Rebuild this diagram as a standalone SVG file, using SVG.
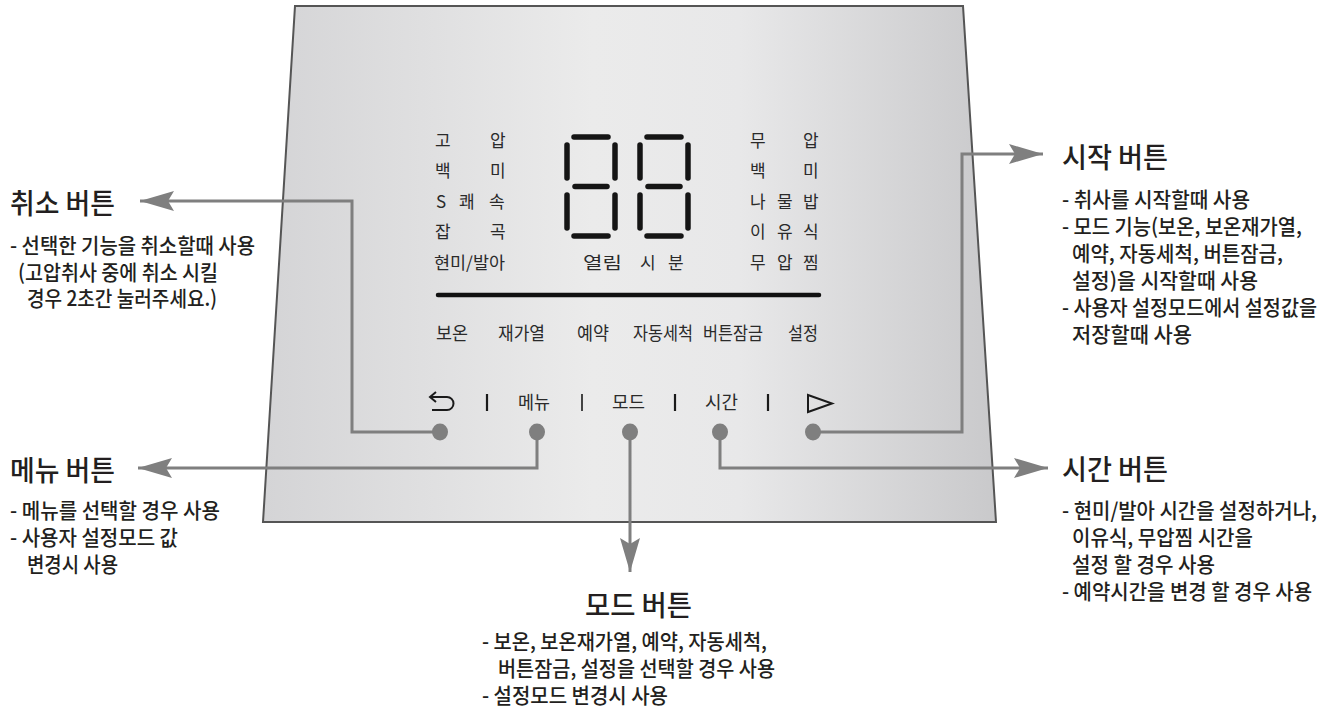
<svg xmlns="http://www.w3.org/2000/svg" width="1339" height="717" viewBox="0 0 1339 717">
<style>
text{font-family:"Noto Sans CJK KR","Noto Sans",sans-serif;fill:#231f20}
.title{font-size:28px;font-weight:500}
.body{font-size:21px;font-weight:500}
.pt{font-size:17px;fill:#2a2a2a}
.lbl{font-size:18px;fill:#2a2a2a}
.seg{stroke:#151515;stroke-width:5.5;stroke-linecap:round;fill:none}
.conn{stroke:#7f7f7f;stroke-width:3;fill:none}
.dot{fill:#7f7f7f}
.sym{stroke:#1a1a1a;stroke-width:2;fill:none}
</style>
<defs>
<linearGradient id="pg" x1="0" y1="0" x2="1" y2="0">
<stop offset="0" stop-color="#d4d4d6"/>
<stop offset="0.45" stop-color="#ebebeb"/>
<stop offset="0.65" stop-color="#e8e8e9"/>
<stop offset="1" stop-color="#c9c9cb"/>
</linearGradient>
<marker id="ah" markerUnits="userSpaceOnUse" viewBox="-36 -12 40 24" refX="0" refY="0" markerWidth="40" markerHeight="24" orient="auto">
<path d="M0,0 L-34,-10 L-28,0 L-34,10 Z" fill="#7f7f7f"/>
</marker>
</defs>

<g id="panel">
<polygon points="295,6 963,6 996,522 263,522" fill="url(#pg)" stroke="#555" stroke-width="2"/>
</g>

<g id="indicators-left">
<text class="pt" x="435" y="146.5">고</text><text class="pt" x="490" y="146.5">압</text>
<text class="pt" x="435" y="177">백</text><text class="pt" x="490" y="177">미</text>
<text class="pt" x="436" y="207.5">S</text><text class="pt" x="459" y="207.5">쾌</text><text class="pt" x="489" y="207.5">속</text>
<text class="pt" x="435" y="237.5">잡</text><text class="pt" x="490" y="237.5">곡</text>
<text class="pt" x="434" y="268.5" textLength="71" lengthAdjust="spacingAndGlyphs">현미/발아</text>
</g>

<g id="indicators-right">
<text class="pt" x="750" y="146.5">무</text><text class="pt" x="803" y="146.5">압</text>
<text class="pt" x="750" y="177">백</text><text class="pt" x="803" y="177">미</text>
<text class="pt" x="750" y="207.5">나</text><text class="pt" x="777" y="207.5">물</text><text class="pt" x="803" y="207.5">밥</text>
<text class="pt" x="750" y="237.5">이</text><text class="pt" x="777" y="237.5">유</text><text class="pt" x="803" y="237.5">식</text>
<text class="pt" x="750" y="268.5">무</text><text class="pt" x="777" y="268.5">압</text><text class="pt" x="803" y="268.5">찜</text>
</g>

<g id="display">
<g id="digit1">
<line class="seg" x1="574" y1="137" x2="608" y2="137"/>
<line class="seg" x1="567" y1="145" x2="567" y2="178"/>
<line class="seg" x1="615" y1="145" x2="615" y2="178"/>
<line class="seg" x1="575" y1="186.5" x2="607" y2="186.5"/>
<line class="seg" x1="567" y1="195" x2="567" y2="228"/>
<line class="seg" x1="615" y1="195" x2="615" y2="228"/>
<line class="seg" x1="574" y1="236" x2="608" y2="236"/>
</g>
<g id="digit2">
<line class="seg" x1="647" y1="137" x2="681" y2="137"/>
<line class="seg" x1="640" y1="145" x2="640" y2="178"/>
<line class="seg" x1="688" y1="145" x2="688" y2="178"/>
<line class="seg" x1="648" y1="186.5" x2="680" y2="186.5"/>
<line class="seg" x1="640" y1="195" x2="640" y2="228"/>
<line class="seg" x1="688" y1="195" x2="688" y2="228"/>
<line class="seg" x1="647" y1="236" x2="681" y2="236"/>
</g>
<text class="pt" x="583" y="268.5" textLength="39" lengthAdjust="spacingAndGlyphs">열림</text>
<text class="pt" x="640" y="268.5">시</text>
<text class="pt" x="668" y="268.5">분</text>
<line x1="438" y1="295" x2="819" y2="295" stroke="#111" stroke-width="4.5" stroke-linecap="round"/>
</g>

<g id="mode-labels">
<text class="lbl" x="436" y="340" textLength="32" lengthAdjust="spacingAndGlyphs">보온</text>
<text class="lbl" x="498" y="340" textLength="47" lengthAdjust="spacingAndGlyphs">재가열</text>
<text class="lbl" x="577" y="340" textLength="32" lengthAdjust="spacingAndGlyphs">예약</text>
<text class="lbl" x="633" y="340" textLength="60" lengthAdjust="spacingAndGlyphs">자동세척</text>
<text class="lbl" x="703" y="340" textLength="60" lengthAdjust="spacingAndGlyphs">버튼잠금</text>
<text class="lbl" x="788" y="340" textLength="30" lengthAdjust="spacingAndGlyphs">설정</text>
</g>

<g id="button-row">
<path class="sym" d="M436,392 L430,397 L436,402 M430,397 H447 A6.5,6.5 0 0 1 447,410 H432"/>
<line x1="487" y1="394" x2="487" y2="411" stroke="#1a1a1a" stroke-width="2.2"/>
<text class="lbl" x="518" y="409" textLength="32" lengthAdjust="spacingAndGlyphs">메뉴</text>
<line x1="582" y1="394" x2="582" y2="411" stroke="#1a1a1a" stroke-width="1.6"/>
<text class="lbl" x="612" y="409" textLength="33" lengthAdjust="spacingAndGlyphs">모드</text>
<line x1="675" y1="394" x2="675" y2="411" stroke="#1a1a1a" stroke-width="2.2"/>
<text class="lbl" x="705" y="409" textLength="33" lengthAdjust="spacingAndGlyphs">시간</text>
<line x1="768" y1="394" x2="768" y2="411" stroke="#1a1a1a" stroke-width="2.2"/>
<polygon class="sym" points="808,395 832,403.5 808,412"/>
</g>

<g id="connectors">
<path class="conn" d="M440,432 H352 V201 H140" marker-end="url(#ah)"/>
<path class="conn" d="M537,432 V468 H138" marker-end="url(#ah)"/>
<path class="conn" d="M630,432 V572" marker-end="url(#ah)"/>
<path class="conn" d="M720,432 V468 H1048" marker-end="url(#ah)"/>
<path class="conn" d="M813,432 H962 V154 H1043" marker-end="url(#ah)"/>
</g>

<g id="dots">
<ellipse class="dot" cx="440" cy="432" rx="8" ry="8.5"/>
<ellipse class="dot" cx="537" cy="432" rx="8" ry="8.5"/>
<ellipse class="dot" cx="630" cy="432" rx="8" ry="8.5"/>
<ellipse class="dot" cx="720" cy="432" rx="8" ry="8.5"/>
<ellipse class="dot" cx="813" cy="432" rx="8" ry="8.5"/>
</g>

<g id="cancel-button">
<text class="title" x="10" y="214" textLength="105" lengthAdjust="spacingAndGlyphs">취소 버튼</text>
<text class="body" x="10" y="253" textLength="245" lengthAdjust="spacingAndGlyphs">- 선택한 기능을 취소할때 사용</text>
<text class="body" x="18" y="280" textLength="200" lengthAdjust="spacingAndGlyphs">(고압취사 중에 취소 시킬</text>
<text class="body" x="27" y="306" textLength="190" lengthAdjust="spacingAndGlyphs">경우 2초간 눌러주세요.)</text>
</g>

<g id="menu-button">
<text class="title" x="10" y="481" textLength="105" lengthAdjust="spacingAndGlyphs">메뉴 버튼</text>
<text class="body" x="10" y="518" textLength="210" lengthAdjust="spacingAndGlyphs">- 메뉴를 선택할 경우 사용</text>
<text class="body" x="10" y="545" textLength="168" lengthAdjust="spacingAndGlyphs">- 사용자 설정모드 값</text>
<text class="body" x="27" y="572" textLength="91" lengthAdjust="spacingAndGlyphs">변경시 사용</text>
</g>

<g id="start-button">
<text class="title" x="1062" y="168" textLength="106" lengthAdjust="spacingAndGlyphs">시작 버튼</text>
<text class="body" x="1062" y="207" textLength="188" lengthAdjust="spacingAndGlyphs">- 취사를 시작할때 사용</text>
<text class="body" x="1062" y="234" textLength="240" lengthAdjust="spacingAndGlyphs">- 모드 기능(보온, 보온재가열,</text>
<text class="body" x="1072" y="261" textLength="211" lengthAdjust="spacingAndGlyphs">예약, 자동세척, 버튼잠금,</text>
<text class="body" x="1072" y="288" textLength="186" lengthAdjust="spacingAndGlyphs">설정)을 시작할때 사용</text>
<text class="body" x="1062" y="315" textLength="255" lengthAdjust="spacingAndGlyphs">- 사용자 설정모드에서 설정값을</text>
<text class="body" x="1072" y="342" textLength="120" lengthAdjust="spacingAndGlyphs">저장할때 사용</text>
</g>

<g id="time-button">
<text class="title" x="1062" y="480" textLength="106" lengthAdjust="spacingAndGlyphs">시간 버튼</text>
<text class="body" x="1062" y="518" textLength="255" lengthAdjust="spacingAndGlyphs">- 현미/발아 시간을 설정하거나,</text>
<text class="body" x="1072" y="545" textLength="181" lengthAdjust="spacingAndGlyphs">이유식, 무압찜 시간을</text>
<text class="body" x="1072" y="572" textLength="143" lengthAdjust="spacingAndGlyphs">설정 할 경우 사용</text>
<text class="body" x="1062" y="599" textLength="250" lengthAdjust="spacingAndGlyphs">- 예약시간을 변경 할 경우 사용</text>
</g>

<g id="mode-button">
<text class="title" x="585" y="616" textLength="107" lengthAdjust="spacingAndGlyphs">모드 버튼</text>
<text class="body" x="482" y="649" textLength="285" lengthAdjust="spacingAndGlyphs">- 보온, 보온재가열, 예약, 자동세척,</text>
<text class="body" x="498" y="676" textLength="277" lengthAdjust="spacingAndGlyphs">버튼잠금, 설정을 선택할 경우 사용</text>
<text class="body" x="482" y="703" textLength="186" lengthAdjust="spacingAndGlyphs">- 설정모드 변경시 사용</text>
</g>
</svg>
